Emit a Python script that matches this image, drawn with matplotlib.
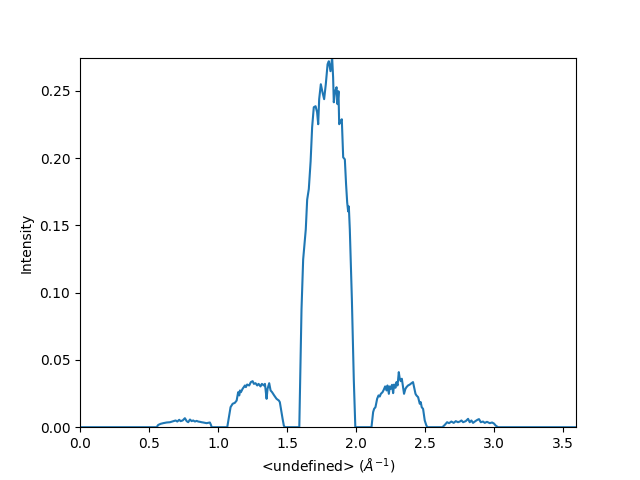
import numpy as np
from matplotlib import pyplot as plt

# radial profile, lobe by lobe (q in 1/A, intensity)
q_start, q_end = 0.0, 3.594

q_lobe1 = [0.555, 0.567, 0.584, 0.603, 0.628, 0.652, 0.676, 0.693, 0.705, 0.719,
           0.729, 0.744, 0.760, 0.773, 0.784, 0.797, 0.809, 0.820, 0.833, 0.845,
           0.857, 0.869, 0.881, 0.893, 0.917, 0.941, 0.949, 0.954]
i_lobe1 = [0, 0.0017, 0.0025, 0.003, 0.0035, 0.0037, 0.0045, 0.005, 0.0042, 0.0055,
           0.0045, 0.005, 0.0067, 0.0045, 0.0037, 0.0057, 0.0045, 0.005, 0.0042, 0.0047,
           0.0042, 0.004, 0.0037, 0.0035, 0.003, 0.0035, 0.0017, 0]

q_lobe2 = [1.067, 1.081, 1.091, 1.106, 1.122, 1.135, 1.146, 1.154, 1.159, 1.166,
           1.178, 1.195, 1.202, 1.211, 1.226, 1.238, 1.251, 1.260, 1.272, 1.284,
           1.294, 1.308, 1.318, 1.332, 1.340, 1.352, 1.359, 1.371, 1.381, 1.392,
           1.407, 1.424, 1.441, 1.448, 1.458, 1.468, 1.477, 1.484]
i_lobe2 = [0, 0.0087, 0.0149, 0.0174, 0.0181, 0.0198, 0.026, 0.0236, 0.0273, 0.026,
           0.0285, 0.031, 0.0298, 0.0317, 0.031, 0.0335, 0.0342, 0.0322, 0.0327, 0.031,
           0.0322, 0.0303, 0.0322, 0.031, 0.0322, 0.0211, 0.0285, 0.0327, 0.0273, 0.026,
           0.0236, 0.0211, 0.0198, 0.0186, 0.0124, 0.0062, 0.0012, 0]

q_main = [1.589, 1.605, 1.617, 1.636, 1.646, 1.658, 1.671, 1.682, 1.694, 1.707,
          1.718, 1.726, 1.733, 1.745, 1.757, 1.769, 1.781, 1.794, 1.803, 1.815,
          1.827, 1.834, 1.839, 1.849, 1.859, 1.866, 1.873, 1.878, 1.888, 1.897,
          1.907, 1.919, 1.928, 1.936, 1.943, 1.948, 1.955, 1.970, 1.984, 1.995]
i_main = [0, 0.0874, 0.1246, 0.147, 0.169, 0.177, 0.1975, 0.2228, 0.2377, 0.2385,
          0.234, 0.2251, 0.2437, 0.2548, 0.2489, 0.2437, 0.2548, 0.2697, 0.2719, 0.2645,
          0.2746, 0.26, 0.2414, 0.2496, 0.2526, 0.24, 0.2496, 0.2251, 0.2273, 0.2288,
          0.2005, 0.199, 0.1804, 0.167, 0.1603, 0.164, 0.147, 0.095, 0.035, 0]

q_lobe3 = [2.112, 2.124, 2.131, 2.141, 2.153, 2.163, 2.172, 2.180, 2.192, 2.201,
           2.211, 2.221, 2.228, 2.238, 2.245, 2.252, 2.261, 2.269, 2.276, 2.286,
           2.293, 2.301, 2.310, 2.317, 2.324, 2.332, 2.341, 2.348, 2.358, 2.366,
           2.377, 2.390, 2.402, 2.413, 2.421, 2.431, 2.438, 2.450, 2.462, 2.469,
           2.476, 2.486, 2.498, 2.510, 2.518]
i_lobe3 = [0, 0.0112, 0.0136, 0.0149, 0.0211, 0.0236, 0.0228, 0.0248, 0.026, 0.0278,
           0.0303, 0.0273, 0.031, 0.0248, 0.0303, 0.0285, 0.0315, 0.0253, 0.0317, 0.0293,
           0.0335, 0.031, 0.0409, 0.036, 0.0342, 0.036, 0.0298, 0.0248, 0.0285, 0.0298,
           0.031, 0.0317, 0.0327, 0.0335, 0.0298, 0.0248, 0.0236, 0.0223, 0.0174, 0.0186,
           0.0149, 0.0136, 0.005, 0.0012, 0]

q_lobe4 = [2.626, 2.643, 2.660, 2.674, 2.691, 2.708, 2.723, 2.739, 2.752, 2.764,
           2.776, 2.795, 2.812, 2.824, 2.836, 2.848, 2.865, 2.880, 2.891, 2.904,
           2.920, 2.933, 2.949, 2.969, 2.986, 3.000, 3.012, 3.029]
i_lobe4 = [0, 0.0017, 0.0037, 0.003, 0.0042, 0.0032, 0.0045, 0.0037, 0.0042, 0.005,
           0.0037, 0.0045, 0.0062, 0.0037, 0.005, 0.0032, 0.0045, 0.0055, 0.006, 0.0037,
           0.0042, 0.0032, 0.004, 0.003, 0.0035, 0.0027, 0.0012, 0]

q = np.concatenate([[q_start], q_lobe1, q_lobe2, q_main, q_lobe3, q_lobe4, [q_end]])
intensity = np.concatenate([[0], i_lobe1, i_lobe2, i_main, i_lobe3, i_lobe4, [0]])

fig, ax = plt.subplots(figsize=(6.4, 4.8), dpi=100)
ax.plot(q, intensity)
ax.set_xlim(q[0], q[-1])
ax.set_ylim(0, intensity.max())
ax.set_xlabel('<undefined> ($\\AA^{-1}$)')
ax.set_ylabel('Intensity')
fig.savefig('out.png')
